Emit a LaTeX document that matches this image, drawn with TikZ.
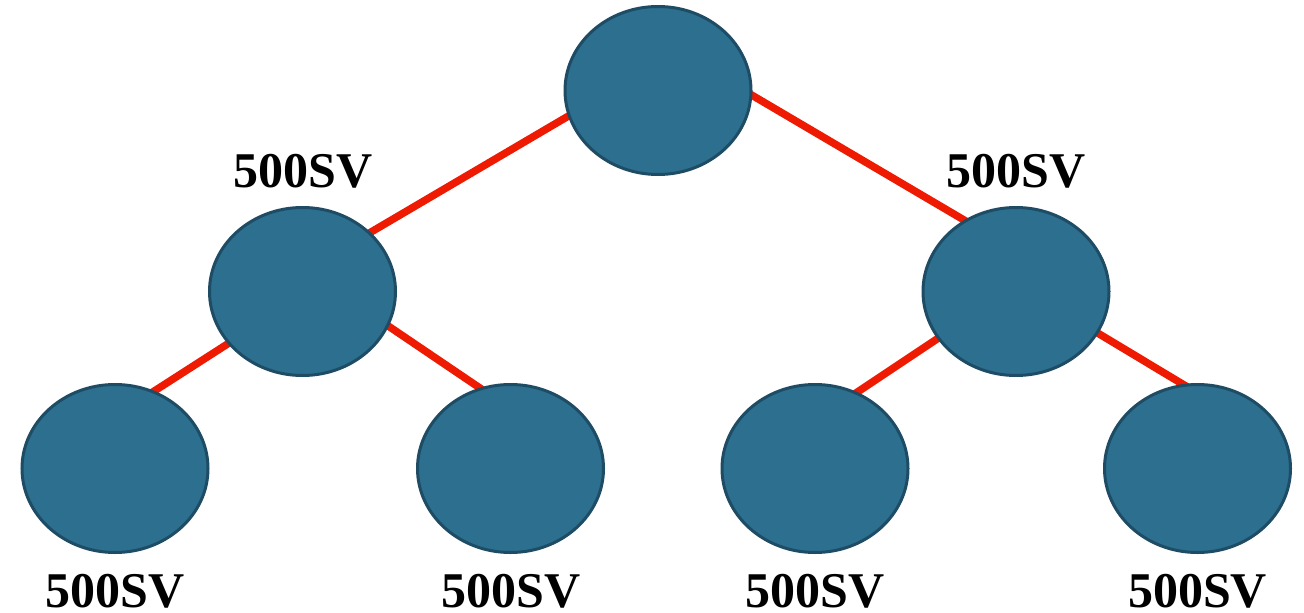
\documentclass[tikz,border=0pt]{standalone}
\usepackage{fontspec}
\setmainfont{Liberation Serif}
\usetikzlibrary{shapes.geometric,backgrounds}
\definecolor{nodefill}{RGB}{44,111,143}
\definecolor{nodeedge}{RGB}{30,76,101}
\definecolor{edgered}{RGB}{238,27,2}
\tikzset{
  treenode/.style={ellipse, draw=nodeedge, fill=nodefill, line width=3pt,
    minimum width=186pt, minimum height=168pt, inner sep=0pt},
  treeedge/.style={draw=edgered, line width=7.5pt, shorten <=-8pt, shorten >=-8pt},
  svlabel/.style={anchor=base, inner sep=0pt, font=\fontsize{50}{60}\selectfont\bfseries}
}
\begin{document}
\begin{tikzpicture}[x=1pt,y=-1pt]
\useasboundingbox (0,0) rectangle (1304,613);
\node[treenode] (root) at (658,90.5) {};
\node[treenode] (L)  at (302.5,291.5) {};
\node[treenode] (R)  at (1016,291.5) {};
\node[treenode] (LL) at (115,468.5) {};
\node[treenode] (LR) at (510.5,468.5) {};
\node[treenode] (RL) at (815,468.5) {};
\node[treenode] (RR) at (1197.5,468.5) {};
\begin{pgfonlayer}{background}
\draw[treeedge] (root.196) -- (L.41);
\draw[treeedge] (root.-3) -- (R.126);
\draw[treeedge] (L.215) -- (LL.63);
\draw[treeedge] (L.-22) -- (LR.111);
\draw[treeedge] (R.211) -- (RL.61);
\draw[treeedge] (R.-27) -- (RR.100);
\end{pgfonlayer}
\node[svlabel] (tL)  at (303,187) {500SV};
\node[svlabel] (tR)  at (1016,187) {500SV};
\node[svlabel] (tLL) at (115,607) {500SV};
\node[svlabel] (tLR) at (511,607) {500SV};
\node[svlabel] (tRL) at (815,607) {500SV};
\node[svlabel] (tRR) at (1197.5,607) {500SV};
\end{tikzpicture}
\end{document}
